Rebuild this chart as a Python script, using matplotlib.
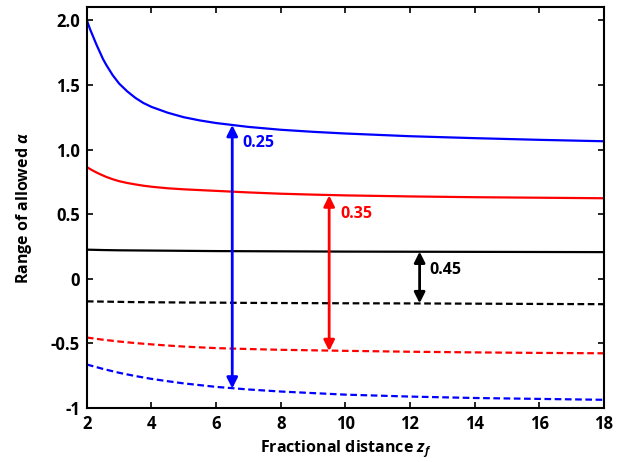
import matplotlib
matplotlib.use("Agg")
import matplotlib.pyplot as plt

plt.rcParams['font.family'] = ['Open Sans', 'DejaVu Sans']
plt.rcParams['font.weight'] = 'bold'
plt.rcParams['mathtext.fontset'] = 'custom'
plt.rcParams['mathtext.it'] = 'Open Sans:italic:bold'
plt.rcParams['mathtext.rm'] = 'Open Sans:bold'
plt.rcParams['mathtext.bf'] = 'Open Sans:bold'

# ---- data ----
z_up = [2, 2.1, 2.2, 2.3, 2.4, 2.5, 2.6, 2.8, 3, 3.25, 3.5, 3.75, 4, 4.5, 5, 5.5,
        6, 7, 8, 9, 10, 12, 14, 16, 18]
blue_upper = [2.0, 1.93, 1.87, 1.81, 1.755, 1.70, 1.655, 1.575, 1.51, 1.45, 1.40, 1.36,
              1.33, 1.285, 1.25, 1.225, 1.205, 1.175, 1.153, 1.137, 1.124, 1.103, 1.088,
              1.075, 1.064]
red_upper = [0.864, 0.849, 0.835, 0.822, 0.81, 0.799, 0.788, 0.77, 0.755, 0.741, 0.73, 0.72,
             0.712, 0.70, 0.692, 0.686, 0.68, 0.668, 0.658, 0.651, 0.645, 0.637, 0.631,
             0.627, 0.623]

z_low = [2, 2.5, 3, 3.5, 4, 4.5, 5, 6, 7, 8, 10, 12, 14, 16, 18]
black_upper = [0.225, 0.222, 0.220, 0.219, 0.218, 0.217, 0.216, 0.214, 0.213, 0.212, 0.210,
               0.209, 0.208, 0.207, 0.206]
black_lower = [-0.175, -0.177, -0.179, -0.181, -0.182, -0.183, -0.184, -0.185, -0.187,
               -0.188, -0.190, -0.191, -0.193, -0.195, -0.197]
red_lower = [-0.455, -0.472, -0.486, -0.498, -0.508, -0.517, -0.525, -0.537, -0.544,
             -0.55, -0.558, -0.565, -0.57, -0.574, -0.577]
blue_lower = [-0.664, -0.698, -0.728, -0.753, -0.775, -0.793, -0.81, -0.837, -0.857,
              -0.873, -0.897, -0.912, -0.923, -0.93, -0.937]

arrow_x = [6.5, 9.5, 12.3]
arrow_low = [-0.85, -0.56, -0.19]
arrow_high = [1.19, 0.645, 0.21]
arrow_labels = ['0.25', '0.35', '0.45']
label_pos = [(6.8, 1.05), (9.85, 0.5), (12.6, 0.07)]
colors = ['#0000FF', '#FF0000', '#000000']

xticks = [2, 4, 6, 8, 10, 12, 14, 16, 18]
yticks = [-1, -0.5, 0, 0.5, 1.0, 1.5, 2.0]
ytick_labels = ['-1', '-0.5', '0', '0.5', '1.0', '1.5', '2.0']

# ---- plot ----
fig = plt.figure(figsize=(6.25, 4.62), dpi=100)
ax = fig.add_axes([0.139, 0.117, 0.827, 0.867])

dash = (3, 1.6)
ax.plot(z_up, blue_upper, color=colors[0], lw=1.6)
ax.plot(z_up, red_upper, color=colors[1], lw=1.6)
ax.plot(z_low, black_upper, color=colors[2], lw=1.6)
ax.plot(z_low, black_lower, color=colors[2], lw=1.6, dashes=dash)
ax.plot(z_low, red_lower, color=colors[1], lw=1.6, dashes=dash)
ax.plot(z_low, blue_lower, color=colors[0], lw=1.6, dashes=dash)

for x, lo, hi, lab, pos, c in zip(arrow_x, arrow_low, arrow_high, arrow_labels, label_pos, colors):
    ax.annotate('', xy=(x, hi), xytext=(x, lo),
                arrowprops=dict(arrowstyle='<|-|>', color=c, lw=2,
                                mutation_scale=16, shrinkA=0, shrinkB=0))
    ax.text(pos[0], pos[1], lab, color=c, fontsize=11.5, fontweight='bold',
            ha='left', va='center')

ax.set_xlim(2, 18)
ax.set_ylim(-1, 2.1)
ax.set_xticks(xticks)
ax.set_yticks(yticks)
ax.set_yticklabels(ytick_labels)
ax.tick_params(direction='in', length=4, width=1.2, top=True, right=True,
               labelsize=12, pad=5)
for lbl in ax.get_xticklabels() + ax.get_yticklabels():
    lbl.set_fontweight('bold')
for s in ax.spines.values():
    s.set_linewidth(1.5)

ax.set_xlabel('Fractional distance $z_f$', fontsize=11.5, fontweight='bold', labelpad=4)
ax.set_ylabel(r'Range of allowed $\alpha$', fontsize=11.5, fontweight='bold', labelpad=12)

fig.savefig('out.png', dpi=100)
